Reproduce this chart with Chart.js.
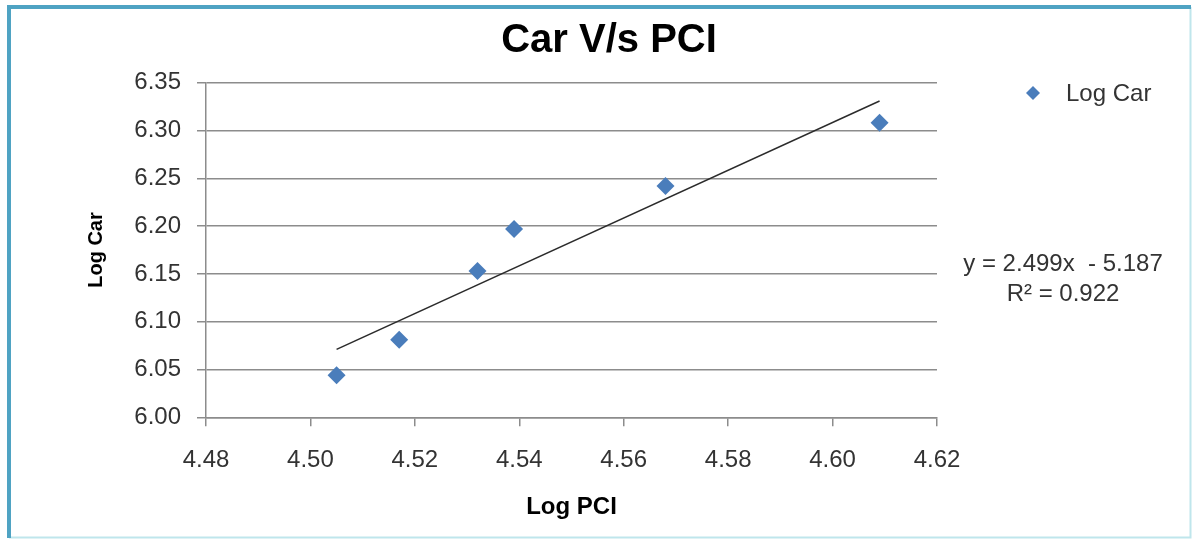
<!DOCTYPE html>
<html lang="en">
<head>
  <meta charset="UTF-8" />
  <title>Car V/s PCI</title>
  <script src="https://cdn.jsdelivr.net/npm/chart.js"></script>
  <style>
    html, body { margin: 0; padding: 0; background: #fff; }
    .wrap { position: relative; width: 1192px; height: 539px; }
  </style>
</head>
<body>
<div class="wrap">
  <canvas id="carChart"></canvas>
</div>

<script>
  // data
  const logPci = [4.505, 4.517, 4.532, 4.539, 4.568, 4.609];
  const logCar = [6.044, 6.081, 6.153, 6.197, 6.242, 6.308];
  const trendSlope = 2.499;
  const trendIntercept = -5.187;
  const trendLabel = ['y = 2.499x  - 5.187', 'R\u00b2 = 0.922'];
  const seriesName = 'Log Car';

  const xMin = 4.48, xMax = 4.62, xStep = 0.02;
  const yMin = 6.00, yMax = 6.35, yStep = 0.05;

  const pointColor = '#4a7dbb';
  const gridColor = '#8c8c8c';
  const font = "'Liberation Sans', Arial, sans-serif";

  const points = logPci.map((x, i) => ({ x: x, y: logCar[i] }));
  const x0 = Math.min(...logPci), x1 = Math.max(...logPci);
  const trend = [
    { x: x0, y: trendSlope * x0 + trendIntercept },
    { x: x1, y: trendSlope * x1 + trendIntercept }
  ];

  // white background + frame
  const framePlugin = {
    id: 'frame',
    beforeDraw(chart) {
      const ctx = chart.ctx;
      ctx.save();
      ctx.fillStyle = '#fff';
      ctx.fillRect(0, 0, chart.width, chart.height);
      ctx.strokeStyle = '#bfe6ec';
      ctx.lineWidth = 2;
      ctx.beginPath();
      ctx.moveTo(1190.5, 7); ctx.lineTo(1190.5, 537.5); ctx.lineTo(9, 537.5);
      ctx.stroke();
      ctx.strokeStyle = '#4fa3c3';
      ctx.lineWidth = 4;
      ctx.beginPath();
      ctx.moveTo(9, 538); ctx.lineTo(9, 7); ctx.lineTo(1191, 7);
      ctx.stroke();
      ctx.restore();
    }
  };

  // legend entry and trendline equation on the right
  const sideTextPlugin = {
    id: 'sideText',
    afterDraw(chart) {
      const ctx = chart.ctx;
      ctx.save();
      ctx.fillStyle = pointColor;
      ctx.beginPath();
      ctx.moveTo(1033, 86); ctx.lineTo(1040, 93); ctx.lineTo(1033, 100); ctx.lineTo(1026, 93);
      ctx.closePath();
      ctx.fill();
      ctx.fillStyle = '#333';
      ctx.font = '24px ' + font;
      ctx.textBaseline = 'middle';
      ctx.textAlign = 'left';
      ctx.fillText(seriesName, 1066, 94);
      ctx.textAlign = 'center';
      ctx.fillText(trendLabel[0], 1063, 264);
      ctx.fillText(trendLabel[1], 1063, 294);
      ctx.restore();
    }
  };

  new Chart(document.getElementById('carChart'), {
    type: 'scatter',
    data: {
      datasets: [
        {
          label: seriesName,
          data: points,
          pointStyle: 'rectRot',
          pointRadius: 9,
          pointHoverRadius: 9,
          backgroundColor: pointColor,
          borderColor: pointColor,
          borderWidth: 0,
          order: 2
        },
        {
          label: 'Trend',
          data: trend,
          showLine: true,
          pointRadius: 0,
          borderColor: '#2b2b2b',
          borderWidth: 1.5,
          order: 1
        }
      ]
    },
    options: {
      responsive: true,
      maintainAspectRatio: false,
      animation: false,
      layout: { padding: { left: 26, right: 0, top: 0, bottom: 0 } },
      plugins: {
        legend: { display: false },
        tooltip: { enabled: false },
        title: {
          display: true,
          text: 'Car V/s PCI',
          color: '#000',
          font: { family: font, size: 40, weight: 'bold', lineHeight: 1.2 },
          padding: { top: 17, bottom: 17.7 }
        }
      },
      scales: {
        x: {
          type: 'linear',
          min: xMin, max: xMax,
          afterFit: (s) => { s.height = 121.7; },
          ticks: {
            stepSize: xStep,
            color: '#333',
            padding: 20,
            font: { family: font, size: 24 },
            callback: (v) => v.toFixed(2)
          },
          grid: { drawOnChartArea: false, drawTicks: true, tickLength: 9, color: gridColor, lineWidth: 1.5 },
          border: { display: true, color: gridColor, width: 1.5 },
          title: {
            display: true,
            text: 'Log PCI',
            color: '#000',
            font: { family: font, size: 24, weight: 'bold' },
            padding: { top: 0, bottom: 17 }
          }
        },
        y: {
          type: 'linear',
          min: yMin, max: yMax,
          afterFit: (s) => { s.width = 180; },
          ticks: {
            stepSize: yStep,
            color: '#333',
            padding: 16,
            font: { family: font, size: 24 },
            callback: (v) => v.toFixed(2)
          },
          grid: { drawTicks: true, tickLength: 9, color: gridColor, lineWidth: 1.5 },
          border: { display: true, color: gridColor, width: 1.5 },
          title: {
            display: true,
            text: 'Log Car',
            color: '#000',
            font: { family: font, size: 20, weight: 'bold' },
            padding: { top: 58, bottom: 0 }
          }
        },
        // empty column that holds the legend / equation area
        side: {
          type: 'linear',
          position: 'right',
          afterFit: (s) => { s.width = 255; },
          ticks: { display: false },
          grid: { display: false },
          border: { display: false }
        }
      }
    },
    plugins: [framePlugin, sideTextPlugin]
  });
</script>
</body>
</html>
